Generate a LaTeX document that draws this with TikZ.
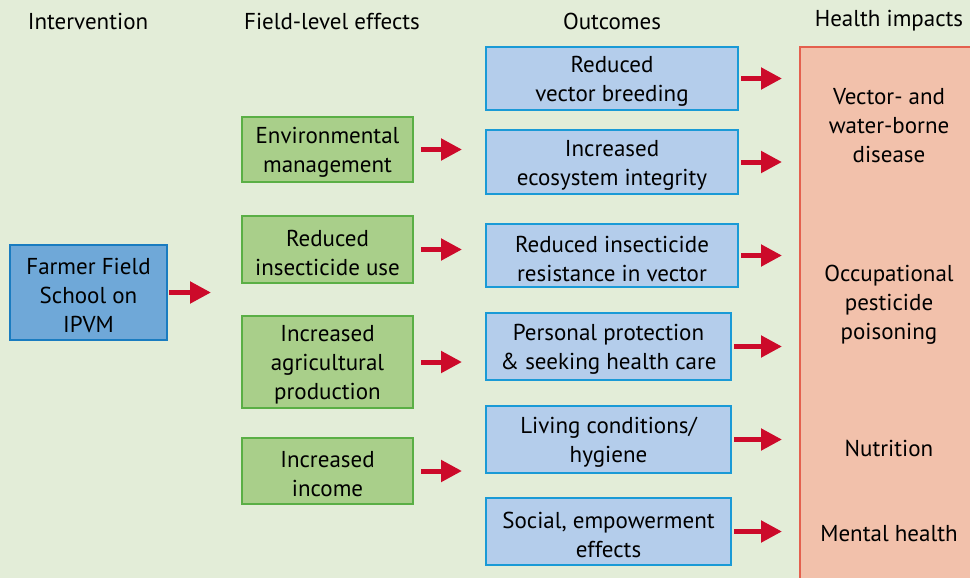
\documentclass[tikz,border=0pt]{standalone}
\usepackage{fontspec}
\setmainfont{PT Sans}
\usetikzlibrary{arrows.meta}
\definecolor{bgc}{HTML}{E3EDD8}
\definecolor{ffsfill}{HTML}{6FA8D8}
\definecolor{ffsline}{HTML}{1A7CC0}
\definecolor{grfill}{HTML}{A9CF8A}
\definecolor{grline}{HTML}{5AAF45}
\definecolor{oufill}{HTML}{B4CDEB}
\definecolor{ouline}{HTML}{1A9AD6}
\definecolor{hifill}{HTML}{F2C1AB}
\definecolor{hiline}{HTML}{E4604E}
\definecolor{arr}{HTML}{CC0A2A}
\tikzset{
  txt/.style={font=\fontsize{23}{29}\selectfont, align=center, inner sep=0pt},
  boxtext/.style={txt, yshift=-3pt},
  box/.style={draw, line width=2pt, inner sep=0pt, label={[boxtext]center:#1}},
  ffsbox/.style={box={#1}, fill=ffsfill, draw=ffsline},
  effbox/.style={box={#1}, fill=grfill, draw=grline},
  outbox/.style={box={#1}, fill=oufill, draw=ouline},
  hibox/.style={draw, line width=2pt, fill=hifill, draw=hiline},
  head/.style={txt},
  link/.style={draw=arr, line width=5pt, -{Triangle[length=21pt,width=21pt]}},
}
\begin{document}
\begin{tikzpicture}[x=1pt,y=-1pt]
\fill[bgc] (0,0) rectangle (970,578);
\useasboundingbox (0,0) rectangle (970,578);

% column headings
\node[head] (h1) at (88,21) {Intervention};
\node[head] (h2) at (332,21) {Field-level effects};
\node[head] (h3) at (612,21) {Outcomes};
\node[head] (h4) at (889,21) {Health impacts};

% health impacts panel (runs off the page)
\node[hibox, minimum width=180pt, minimum height=540pt, anchor=north west] (hi) at (799,46) {};
\node[txt] (hv) at (889,126) {Vector- and\\water-borne\\disease};
\node[txt] (hp) at (889,305) {Occupational\\pesticide\\poisoning};
\node[txt] (hn) at (889,448) {Nutrition};
\node[txt] (hm) at (889,534) {Mental health};

% intervention
\node[ffsbox={Farmer Field\\School on\\IPVM}, minimum width=157pt, minimum height=95pt] (ffs) at (88.5,292.5) {};

% field-level effects
\node[effbox={Environmental\\management}, minimum width=171pt, minimum height=65pt] (e1) at (327.5,149.5) {};
\node[effbox={Reduced\\insecticide use}, minimum width=171pt, minimum height=67pt] (e2) at (327.5,249.5) {};
\node[effbox={Increased\\agricultural\\production}, minimum width=171pt, minimum height=92pt] (e3) at (327.5,362) {};
\node[effbox={Increased\\income}, minimum width=171pt, minimum height=66pt] (e4) at (327.5,471) {};

% outcomes
\node[outbox={Reduced\\vector breeding}, minimum width=252pt, minimum height=63pt] (o1) at (612,78.5) {};
\node[outbox={Increased\\ecosystem integrity}, minimum width=252pt, minimum height=64pt] (o2) at (612,162) {};
\node[outbox={Reduced insecticide\\resistance in vector}, minimum width=252pt, minimum height=63pt] (o3) at (612,255.5) {};
\node[outbox={Personal protection\\\& seeking health care}, minimum width=245pt, minimum height=67pt] (o4) at (608.5,346.5) {};
\node[outbox={Living conditions/\\hygiene}, minimum width=245pt, minimum height=67pt] (o5) at (608.5,439.5) {};
\node[outbox={Social, empowerment\\effects}, minimum width=245pt, minimum height=67pt] (o6) at (608.5,531.5) {};

% arrows
\draw[link, shorten <=1pt, shorten >=30pt] (ffs.east) -- (ffs.east -| e1.west);
\foreach \e in {e1,e2,e3,e4}
  \draw[link, shorten <=7pt, shorten >=23pt] (\e.east) -- (\e.east -| o1.west);
\foreach \o in {o1,o2,o3,o4,o5,o6}
  \draw[link, shorten <=2pt, shorten >=17pt] (\o.east) -- (\o.east -| hi.west);
\end{tikzpicture}
\end{document}
